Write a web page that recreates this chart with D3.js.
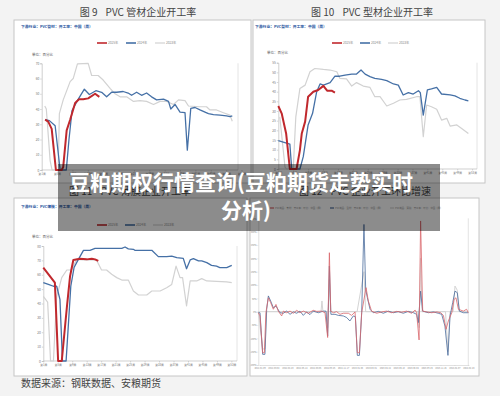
<!DOCTYPE html>
<html>
<head>
<meta charset="utf-8">
<script src="https://cdn.jsdelivr.net/npm/d3@7"></script>
<style>
body { margin: 0; background: #f3f3f3; }
svg { display: block; font-family: "Noto Sans CJK SC", "Noto Sans", sans-serif; }
</style>
</head>
<body>
<svg id="chart" width="500" height="396"></svg>
<script>
// series names (legend) and tick labels
var yearNames = ["2025年", "2024年", "2023年"];
var weekLabels = ["第1周", "第5周", "第9周", "第13周", "第17周", "第21周", "第25周",
  "第29周", "第33周", "第37周", "第41周", "第45周", "第49周", "第53周"];
var dateLabels = ["2022-01-09", "2022-03-02", "2022-04-23", "2022-06-14", "2022-08-05",
  "2022-09-26", "2022-11-17", "2023-01-08", "2023-03-01", "2023-04-22", "2023-06-13",
  "2023-08-04", "2023-09-25", "2023-11-16", "2024-01-07", "2024-02-28"];
var changeNames = ["PVC制品：管材：开工率：环比：中国（周）", "PVC制品：型材：开工率：环比：中国（周）",
  "PVC制品：薄膜：开工率：环比：中国（周）"];

// [week index, %]  图9 管材
var pipe2025 = [[0.9,33],[1.7,31.7],[2.6,27],[3.7,0],[5.2,0],[5.6,2],[6.5,26],[7.4,33],[8.7,44],
  [9.7,46.4],[10.8,46.4],[12.1,47],[13.9,50],[15,48]];
var pipe2024 = [[0.9,33],[2,32.4],[3.5,29],[4.8,0],[6.4,0],[7.1,20],[7.9,39],[9.4,46],[11.1,53],
  [12.4,49.5],[14.1,52],[15.6,51],[16.9,48],[18.2,51],[19.5,51],[21.2,51.5],[22.5,50.5],[23.4,49],
  [24.7,51],[26,49],[27.3,50.5],[28.6,48],[29.9,46],[31.7,46.5],[33,45],[33.6,40],[34.7,43],[36,38],
  [37.3,37.6],[37.9,13],[38.8,40.5],[39.9,41],[41.2,39.4],[42.5,38],[43.4,37],[44.7,36.3],[46.4,36],
  [48.1,35.5],[49,35],[49.6,35.5]];
var pipe2023 = [[0.8,42],[1.2,40],[2.2,6],[2.7,0],[4.3,0],[4.6,37],[5.6,46],[7.4,58],[8.2,60],
  [9.3,69.6],[12.1,70],[13,62],[14.7,62],[16,59],[17.8,53.6],[19.1,50],[20.4,48],[22.1,48],[23.9,45],
  [25.6,45.5],[27.3,45],[29.1,43],[30.8,45],[32.5,45],[34.3,43],[35.6,46],[37.3,45.5],[38.2,42],
  [41.2,41.5],[42.9,41.5],[43.8,39.4],[45.5,39.4],[47.3,37.6],[49,36],[49.6,32]];

// 图10 型材
var profile2025 = [[0,32.6],[0.9,28.8],[2.1,18.4],[3.1,0],[4.9,0],[5.8,9.8],[6.3,18.4],[7.2,24.5],
  [8,37.4],[9.4,40],[10.7,40.9],[12.1,43],[13.1,40.5],[14.3,40.5],[15.2,39.5]];
var profile2024 = [[0,14.7],[3.1,12.9],[3.6,0],[5.8,0],[6.7,6.4],[8,22.8],[9.2,28.8],[10.3,40],
  [11.2,44],[12.1,43.4],[13.9,44.7],[15.2,48],[16.5,48],[17.9,48.6],[19.7,49.1],[21,49.1],[22.2,51.2],
  [23.3,49.1],[24.6,47.8],[25.9,46.9],[27.7,46.4],[29.1,45.7],[30.9,44],[32.2,43.4],[33.5,38.3],
  [34.9,39.5],[36.2,38.8],[37.6,40.5],[38.1,39.5],[38.9,27.9],[40,40.9],[41.1,41.4],[42.5,42.2],
  [43.8,38.8],[46.1,38.3],[47.4,37.8],[48.7,36.6],[50.1,35.7],[51,35.3]];
var profile2023 = [[0.4,27],[1.8,1],[2.2,0],[4,0],[4.7,27],[5.8,41.7],[7.2,43.4],[8.5,50.3],[9.8,52],
  [12.1,51.5],[13.9,51.2],[15.7,50.3],[16.5,46.9],[18.3,46.6],[19.7,42.9],[21,44.7],[22.8,42.9],
  [24.6,42.2],[25.9,37.4],[27.3,37.4],[29.1,32.6],[30.9,34],[32.6,35.7],[34.4,36],[37.1,37.4],[38,37.4],
  [38.9,16.7],[39.8,33.1],[41.1,32.2],[42.5,30.9],[43.8,25.3],[45.2,26.2],[46.1,22.2],[47.9,22.8],
  [49.2,21],[51,18.4]];

// 图11 薄膜
var film2025 = [[0,65],[3.2,54.5],[4.1,0],[5.1,0],[6.5,37],[7.4,59],[8.3,70.3],[10.1,71.2],[12,70.7],
  [13.4,71.2],[14.3,70.7],[15.2,69.6]];
var film2024 = [[0,54.5],[1.4,53.3],[2.8,52],[3.7,52],[4.6,42.9],[5.3,0],[6.3,0],[7.6,52],[8.5,65],
  [9.7,70.7],[11.1,77],[12.9,77],[14.3,78.4],[16.6,78.4],[19.4,78.4],[21.7,78.4],[22.6,79.3],[23.5,78],
  [24.9,77.7],[25.3,77],[28.6,77],[30,77],[31.8,72.6],[34.1,72.6],[35.5,73],[36.9,71.9],[38.7,71.4],
  [39.6,64.2],[40.6,70.3],[41.5,71.2],[42.9,69.6],[43.8,69.6],[45.2,68.4],[46.5,66.5],[47.9,66],
  [48.8,65],[50.7,65],[52.1,66.5]];
var film2023 = [[0,45],[1.2,41],[2,0],[2.8,0],[3.7,45],[5.1,58],[6.5,63.3],[7.8,63.3],[9.2,70.7],
  [11.1,70.3],[14.7,70.3],[16.1,63.3],[17.5,63.3],[18.9,60.3],[20.3,58],[21.7,56.3],[23.5,56.3],
  [24.9,48.7],[26.3,45.9],[28.6,45.9],[30,48.7],[32.3,48.7],[34.1,51],[35.5,53.3],[36.7,66],[37.8,58],
  [38.5,58],[39.6,38.3],[40.6,55.7],[42.4,55.7],[43.8,57.3],[45.2,55.7],[47.9,55.4],[50.7,55],[52.1,54.5]];

// 图12 环比增速 [week index, %]
var chgPipe = [[0,-4],[0.9,-16],[2.3,-154],[3.2,-154],[4,-4],[5.3,52],[6.5,34],[7.9,9],[9.3,27],
  [10.5,2],[12.3,-16],[13.2,2],[14.9,-4],[16.7,2],[18.4,-6],[20.2,5],[21.9,-4],[23.7,2],[26.3,-6],
  [28.9,5],[30.7,1],[33.3,2],[35.1,-4],[36.5,-97],[37.4,221],[38.1,2],[39.5,-4],[41.2,0],[43,-10],
  [44.7,-6],[47.4,-6],[49.1,-14],[50.9,-1],[52.1,-154],[53.2,-154],[54.4,-4],[56.7,90],[57.9,40],
  [59.6,2],[62.3,-6],[64.9,-1],[67.5,2],[70.2,-4],[72.8,1],[75.4,-2],[78.1,2],[80.7,-6],[82.5,6],
  [83.3,-4],[84.6,-106],[85.4,340],[86.5,2],[88.6,-1],[91.2,-4],[93.9,-1],[96,-4],[97.4,-14],
  [98.8,-66],[100,-35],[101.8,-4],[103,46],[104,52],[105.3,9],[107.9,2],[109.6,9],[110.5,-4]];
var chgProfile = [[0,-4],[0.9,-4],[2.3,-160],[3.5,-160],[4.4,9],[5.3,59],[6.5,40],[7.9,15],[9.3,21],
  [11.4,-4],[13.2,-6],[14.9,2],[16.7,-10],[18.4,-1],[20.2,-6],[21.9,2],[23.7,-14],[25.4,-1],[27.2,-11],
  [28.9,2],[31.6,-4],[34.2,2],[35.6,2],[36.5,-91],[37.4,171],[38.2,-10],[40.4,-10],[42.1,-14],
  [44.7,-16],[46.5,-22],[48.2,-35],[50,-16],[51.1,-19],[52.1,-164],[53.2,-164],[54.4,-4],[55.6,327],
  [56.5,84],[57.4,52],[58.8,9],[60.5,-4],[63.2,1],[65.8,-6],[68.4,2],[71.1,-4],[73.7,0],[76.3,-6],
  [78.9,1],[81.6,-4],[83.3,-10],[84.2,-41],[85.4,77],[86.5,2],[89.5,-4],[92.1,-1],[94.7,-6],[96.5,-10],
  [98.2,-54],[99.8,-164],[100.9,-16],[102.3,34],[103.5,77],[104.7,71],[105.8,2],[107.9,-4],[110.5,-4]];
var chgFilm = [[0,0],[2.3,-140],[3.5,-140],[4.4,0],[33,0],[33.5,40],[34,0],[36,0],[36.5,-60],[37.4,120],
  [38,0],[52,0],[55.6,150],[56.5,0],[84,0],[84.6,-60],[85.4,200],[86.2,0],[98.5,0],[99.8,-150],[100.9,0],
  [102.5,0],[103.5,96],[104.7,80],[105.8,0],[110.5,0]];

var svg = d3.select("#chart");
svg.append("rect").attr("width", 500).attr("height", 396).attr("fill", "#f3f3f3");

var yearColors = ["#c0282d", "#4570a6", "#d2d2d2"];
var yearWidths = [2, 1.3, 1.2];

// panel heading: "图 N" then the name, with a wider gap between
function heading(cx, cy, num, name) {
  var t = svg.append("text").attr("x", cx).attr("y", cy).attr("text-anchor", "middle")
    .attr("font-size", 10).attr("fill", "#444").attr("dominant-baseline", "middle");
  t.append("tspan").text("图 " + num);
  t.append("tspan").attr("dx", 8).text("PVC " + name);
}

function drawWeekPanel(p) {
  var g = svg.append("g");
  g.append("rect").attr("x", p.box[0]).attr("y", p.box[1]).attr("width", p.box[2]).attr("height", p.box[3])
    .attr("fill", "#fff").attr("stroke", "#c6c6c6");
  heading(p.title[0], p.title[1], p.title[2], p.title[3]);
  g.append("text").attr("x", p.sub[0]).attr("y", p.sub[1]).attr("font-size", 3.8).attr("fill", "#2a56a0")
    .attr("font-weight", "bold").attr("dominant-baseline", "middle").text(p.sub[2]);
  g.append("text").attr("x", p.unit[0]).attr("y", p.unit[1]).attr("font-size", 3.5).attr("fill", "#555")
    .attr("dominant-baseline", "middle").text("单位：百分比");

  var x = d3.scaleLinear().domain([0, 52]).range(p.xr);
  var y = d3.scaleLinear().domain(p.yd).range(p.yr);

  // right frame line
  g.append("line").attr("x1", p.right).attr("x2", p.right).attr("y1", p.yr[1]).attr("y2", p.yr[0])
    .attr("stroke", "#ddd").attr("stroke-width", 0.8);

  var yAxis = g.append("g").attr("transform", translate(p.xr[0], 0))
    .call(d3.axisLeft(y).tickValues(d3.range(p.yd[0], p.yd[1] + 0.1, p.step)).tickSize(1.5).tickPadding(1));
  var xAxis = g.append("g").attr("transform", translate(0, p.yr[0]))
    .call(d3.axisBottom(x).tickValues(d3.range(0, 53, 4)).tickFormat((d, i) => weekLabels[i]).tickSize(1.5).tickPadding(1.5));
  [yAxis, xAxis].forEach(a => {
    a.select(".domain").attr("stroke", "#bbb").attr("stroke-width", 0.7);
    a.selectAll(".tick line").attr("stroke", "#bbb").attr("stroke-width", 0.6);
    a.selectAll("text").attr("font-size", 3.2).attr("fill", "#777").attr("font-family", "Noto Sans CJK SC");
  });
  xAxis.selectAll("text").attr("font-size", 2.8);
  xAxis.select(".domain").attr("d", "M" + p.xr[0] + ",0H" + p.right);

  var line = d3.line().x(d => x(d[0])).y(d => y(d[1]));
  // draw 2023 first, 2025 on top
  [2, 1, 0].forEach(i => {
    g.append("path").datum(p.series[i]).attr("d", line).attr("fill", "none")
      .attr("stroke", yearColors[i]).attr("stroke-width", yearWidths[i]).attr("stroke-linejoin", "round");
  });

  // legend
  yearNames.forEach((name, i) => {
    var lx = p.legend[0] + i * p.legend[2];
    g.append("line").attr("x1", lx).attr("x2", lx + 10).attr("y1", p.legend[1]).attr("y2", p.legend[1])
      .attr("stroke", yearColors[i]).attr("stroke-width", i == 2 ? 1.2 : 1.6);
    g.append("text").attr("x", lx + 11).attr("y", p.legend[1]).attr("font-size", 3.2).attr("fill", "#888")
      .attr("dominant-baseline", "middle").text(name);
  });
}

drawWeekPanel({
  box: [14, 20, 237, 163], title: [138, 13, 9, "管材企业开工率"],
  sub: [21, 27, "下游行业：PVC管材：开工率：中国（周）"], unit: [32, 55],
  xr: [41.7, 241.5], yr: [170, 63.3], yd: [0, 70], step: 10, right: 238,
  legend: [97, 43, 29], series: [pipe2025, pipe2024, pipe2023]
});
drawWeekPanel({
  box: [253, 20, 232, 163], title: [372, 13, 10, "型材企业开工率"],
  sub: [255, 27, "下游行业：PVC型材：开工率：中国（周）"], unit: [267, 53],
  xr: [278.3, 472.1], yr: [169, 62.7], yd: [0, 55], step: 5, right: 477,
  legend: [332, 43, 28], series: [profile2025, profile2024, profile2023]
});
drawWeekPanel({
  box: [14, 198, 233, 178], title: [130, 192, 11, "薄膜企业开工率"],
  sub: [21, 207, "下游行业：PVC薄膜：开工率：中国（周）"], unit: [32, 237],
  xr: [43.3, 231.4], yr: [361, 246], yd: [0, 80], step: 10, right: 237,
  legend: [97, 225, 28], series: [film2025, film2024, film2023]
});

// 图12 环比增速
(function () {
  var g = svg.append("g");
  g.append("rect").attr("x", 250).attr("y", 198).attr("width", 229).attr("height", 178)
    .attr("fill", "#fff").attr("stroke", "#c6c6c6");
  heading(365, 192, 12, "企业开工环比增速");

  var x = d3.scaleLinear().domain([0, 110.5]).range([258.3, 468.3]);
  var y = d3.scaleLinear().domain([-200, 350]).range([365, 218.3]);
  var xt = d3.scalePoint().domain(dateLabels).range([259.5, 468.3]);

  g.append("line").attr("x1", 468.3).attr("x2", 468.3).attr("y1", 218.3).attr("y2", 365)
    .attr("stroke", "#ddd").attr("stroke-width", 0.8);
  g.append("line").attr("x1", 258.3).attr("x2", 468.3).attr("y1", y(0)).attr("y2", y(0))
    .attr("stroke", "#ccc").attr("stroke-width", 0.7);

  var yAxis = g.append("g").attr("transform", translate(258.3, 0))
    .call(d3.axisLeft(y).tickValues(d3.range(-200, 351, 50)).tickFormat(d => d + "%").tickSize(1).tickPadding(0.8));
  var xAxis = g.append("g").attr("transform", translate(0, 365))
    .call(d3.axisBottom(xt).tickSize(1).tickPadding(1.5));
  [yAxis, xAxis].forEach(a => {
    a.select(".domain").attr("stroke", "#ccc").attr("stroke-width", 0.6);
    a.selectAll(".tick line").attr("stroke", "#ccc").attr("stroke-width", 0.5);
    a.selectAll("text").attr("font-size", 2.2).attr("fill", "#888").attr("font-family", "Noto Sans CJK SC");
  });

  var line = d3.line().x(d => x(d[0])).y(d => y(d[1]));
  var chg = [chgPipe, chgProfile, chgFilm];
  var chgColors = ["#d9676c", "#4a6c9c", "#d4d4d4"];
  [2, 1, 0].forEach(i => {
    g.append("path").datum(chg[i]).attr("d", line).attr("fill", "none")
      .attr("stroke", chgColors[i]).attr("stroke-width", 1).attr("stroke-opacity", i == 2 ? 1 : 0.8)
      .attr("stroke-linejoin", "round");
  });

  changeNames.forEach((name, i) => {
    var lx = 270 + i * 60;
    g.append("line").attr("x1", lx).attr("x2", lx + 4).attr("y1", 208).attr("y2", 208)
      .attr("stroke", chgColors[i]).attr("stroke-width", 1.2);
    g.append("text").attr("x", lx + 5).attr("y", 208).attr("font-size", 2.4).attr("fill", "#999")
      .attr("dominant-baseline", "middle").text(name);
  });
})();

svg.append("text").attr("x", 21).attr("y", 384).attr("font-size", 10).attr("fill", "#444")
  .attr("dominant-baseline", "middle").text("数据来源：钢联数据、安粮期货");

// title overlay
svg.append("rect").attr("x", 58).attr("y", 164).attr("width", 382).attr("height", 67)
  .attr("fill", "rgba(0,0,0,0.45)");
var ttl = svg.append("text").attr("text-anchor", "middle").attr("font-size", 21)
  .attr("font-weight", "bold").attr("fill", "#fff");
ttl.append("tspan").attr("x", 241).attr("y", 190).text("豆粕期权行情查询(豆粕期货走势实时");
ttl.append("tspan").attr("x", 246).attr("y", 218).text("分析)");

console.log("done");

/*
 * returns a translate string for the transform attribute
 */
function translate(x, y) {
  return 'translate(' + String(x) + ',' + String(y) + ')';
}
</script>
</body>
</html>
